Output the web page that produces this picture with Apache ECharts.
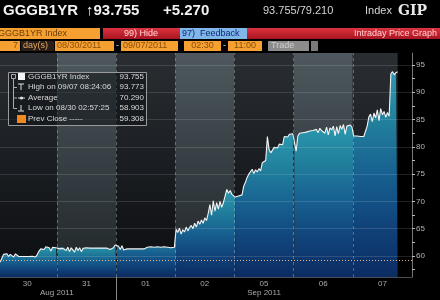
<!DOCTYPE html>
<html><head><meta charset="utf-8">
<script src="https://cdn.jsdelivr.net/npm/echarts@6/dist/echarts.min.js"></script>
<style>html,body{margin:0;padding:0;background:#000;}#c{width:440px;height:300px;}</style>
</head><body><div id="c"></div>
<script>
// ---- data ----
const dayLabels = ['30','31','01','02','05','06','07'];
const monthLabels = ['Aug 2011','Sep 2011'];
const monthStartDay = [0, 2];
const yTicks = [60,65,70,75,80,85,90,95];
const yMinorTicks = [57.5,60,62.5,65,67.5,70,72.5,75,77.5,80,82.5,85,87.5,90,92.5,95];
const slotsPerDay = 35; // 15-minute slots 02:30 - 11:00
const lastPrice = 93.755;
const prevClose = 59.308;
const d30 = [59.4,58.9,59.6,60.3,60.0,60.4,59.9,60.3,60.2,59.8,60.4,60.1,59.9,59.9,59.9,59.95,59.9,59.9,59.9,59.9,59.95,59.9,59.8,60.3,60.9,61.3,61.6,61.2,61.7,61.4,61.5,60.9,61.6,61.4,61.5];
const d31 = [61.5,61.3,61.6,61.4,61.5,61.0,61.6,60.8,61.5,61.2,60.7,61.6,61.0,61.5,60.8,61.4,61.1,61.5,61.3,61.45,61.45,61.45,61.5,61.45,61.45,61.45,61.5,61.45,61.45,61.45,61.1,61.2,61.3,61.5,62.0];
const d01 = [62.1,61.8,61.2,61.9,61.1,61.3,61.3,61.3,61.3,61.25,61.3,61.3,61.3,61.3,61.3,61.3,61.3,61.3,61.6,61.4,61.7,61.5,61.6,61.4,61.7,61.5,61.6,61.4,61.7,61.5,61.6,61.8,61.5,61.7,61.6];
const d02 = [64.9,64.3,65.1,64.0,64.8,64.4,65.3,64.6,65.2,65.6,65.0,66.0,65.3,66.4,65.8,66.6,66.0,67.0,66.5,67.8,69.4,67.5,70.1,68.2,69.8,68.6,70.0,68.9,69.8,71.0,72.2,71.5,72.0,71.3,71.6];
const d05 = [70.8,70.6,71.0,70.7,71.2,72.8,73.5,74.4,75.0,75.3,75.9,75.1,75.8,75.4,76.0,75.6,77.1,76.8,77.5,81.9,79.5,78.9,79.4,79.9,80.2,79.8,80.5,80.8,80.4,81.9,82.1,81.8,82.3,82.0,82.4];
const d06 = [82.3,79.2,82.0,82.5,82.2,82.6,82.3,82.7,82.5,82.9,82.6,83.0,82.8,83.2,82.6,83.4,83.0,83.3,82.5,83.6,82.2,83.5,83.1,83.8,82.0,83.7,82.4,83.9,83.2,84.1,82.3,83.8,83.5,84.0,83.6];
const d07 = [82.0,81.9,82.0,81.9,81.9,82.0,81.9,82.0,83.8,85.5,86.0,84.6,86.2,85.3,86.8,84.8,87.0,85.9,86.5,85.4,86.3,85.6,93.4,93.77,93.2,93.6,93.755];
const dayValues = [d30, d31, d01, d02, d05, d06, d07];

// ---- build ----
const dayData = dayValues.map((vals, d) => vals.map((v, j) => [d + (j + 0.5) / slotsPerDay, v]));
const priceData = [].concat(...dayData);
const lastX = priceData[priceData.length - 1][0];
const X_MIN = 0.04, X_MAX = 7;

const grad = (stops) => ({type:'linear', x:0, y:0, x2:0, y2:1, colorStops: stops.map((c,i)=>({offset:i/(stops.length-1), color:c}))});
const lightBand = grad(['#4a5258','#30363b','#1a1d20']);
const darkBand = grad(['#2a2e33','#1a1d21','#0c0e10']);
const bandData = dayLabels.map((_, d) => [
  {xAxis: d, itemStyle: {color: d % 2 ? lightBand : darkBand}},
  {xAxis: Math.min(d + 1, lastX)}
]);
const overlayData = dayLabels.map((_, d) => d).filter(d => d % 2).map(d => [
  {xAxis: d, itemStyle: {color: 'rgba(150,215,225,0.05)'}},
  {xAxis: Math.min(d + 1, lastX)}
]);

const monthCenters = monthStartDay.map((s, i) => (s + (i + 1 < monthStartDay.length ? monthStartDay[i+1] : dayLabels.length)) / 2);
const dayCenters = dayLabels.map((_, d) => d + 0.5);

const FONT = 'Liberation Sans, Arial, sans-serif';
const txt = (x, y, s, fill, size, extra) => Object.assign({type:'text', x, y, silent:true,
  style:Object.assign({text:s, fill, font:`${size}px ${FONT}`, textVerticalAlign:'middle'}, extra||{})});
const rect = (x, y, w, h, fill) => ({type:'rect', silent:true, shape:{x,y,width:w,height:h}, style:{fill}});
const orange = '#f5a030', oText = '#8a4e0c';

const graphics = [
  // header row 1
  txt(3, 11, 'GGGB1YR', '#f2f2f2', 15, {font:`bold 15px ${FONT}`}),
  txt(86, 11, '\u219193.755', '#f2f2f2', 15, {font:`bold 15px ${FONT}`}),
  txt(163, 11, '+5.270', '#f2f2f2', 15, {font:`bold 15px ${FONT}`}),
  txt(263, 11, '93.755/79.210', '#d4d4d4', 11),
  txt(365, 11, 'Index', '#d4d4d4', 11),
  txt(398, 11, 'GIP', '#e8e8e8', 14, {font:`bold 14px DejaVu Serif, serif`}),
  // row 2
  rect(0, 28, 100, 11, orange),
  txt(-2, 33.5, 'GGGB1YR Index', '#6b3e0a', 9),
  {type:'rect', silent:true, shape:{x:103,y:28,width:337,height:11}, style:{fill:grad(['#dc3340','#a81420'])}},
  txt(141, 33.5, '99) Hide', '#ffd8d8', 9, {textAlign:'center'}),
  rect(180, 28, 67, 11, '#80b6e8'),
  txt(182, 33.5, '97)  Feedback', '#0c2a78', 9),
  txt(437, 33.5, 'Intraday Price Graph', '#ffd0d0', 9, {textAlign:'right'}),
  // row 3
  rect(0, 41, 20, 10, orange), txt(18, 46, '7', oText, 9, {textAlign:'right'}),
  rect(21, 41, 33, 10, '#2a1e16'), txt(23, 46, 'day(s)', '#e0a868', 9),
  rect(55, 41, 59, 10, orange), txt(57, 46, '08/30/2011', oText, 9),
  txt(117.5, 46, '-', '#ddd', 9, {textAlign:'center'}),
  rect(121, 41, 57, 10, orange), txt(123, 46, '09/07/2011', oText, 9),
  rect(184, 41, 37, 10, orange), txt(202.5, 46, '02:30', oText, 9, {textAlign:'center'}),
  txt(224.5, 46, '-', '#ddd', 9, {textAlign:'center'}),
  rect(228, 41, 34, 10, orange), txt(245, 46, '11:00', oText, 9, {textAlign:'center'}),
  rect(268, 41, 41, 10, '#8c8c8c'), txt(271, 46, 'Trade', '#d0d0d0', 9),
  rect(311, 41, 7, 10, '#7a7a7a'),
  // legend box
  {type:'rect', silent:true, z:100, shape:{x:8.5,y:72.5,width:138,height:53}, style:{fill:'rgba(15,18,22,0.55)', stroke:'#9a9a9a', lineWidth:1}},
  {type:'rect', silent:true, z:101, shape:{x:11.5,y:74.5,width:4,height:4}, style:{fill:'none', stroke:'#aaa', lineWidth:1}},
  {type:'rect', silent:true, z:101, shape:{x:18,y:73,width:7,height:7}, style:{fill:'#f4f4f4'}},
  {type:'polyline', silent:true, z:101, shape:{points:[[13.5,79],[13.5,108.5]]}, style:{stroke:'#aaa', lineWidth:1}},
  {type:'polyline', silent:true, z:101, shape:{points:[[13.5,87.5],[17,87.5]]}, style:{stroke:'#aaa', lineWidth:1}},
  {type:'polyline', silent:true, z:101, shape:{points:[[13.5,98],[17,98]]}, style:{stroke:'#aaa', lineWidth:1}},
  {type:'polyline', silent:true, z:101, shape:{points:[[13.5,108.5],[17,108.5]]}, style:{stroke:'#aaa', lineWidth:1}},
  {type:'polyline', silent:true, z:101, shape:{points:[[18,84],[24,84]]}, style:{stroke:'#ddd', lineWidth:1}},
  {type:'polyline', silent:true, z:101, shape:{points:[[21,84],[21,90]]}, style:{stroke:'#ddd', lineWidth:1}},
  {type:'polyline', silent:true, z:101, shape:{points:[[18,98],[25,98]]}, style:{stroke:'#ddd', lineWidth:1}},
  {type:'circle', silent:true, z:101, shape:{cx:21.5,cy:98,r:1.6}, style:{fill:'#ddd'}},
  {type:'polyline', silent:true, z:101, shape:{points:[[21,105],[21,111]]}, style:{stroke:'#ddd', lineWidth:1}},
  {type:'polyline', silent:true, z:101, shape:{points:[[18,111],[24,111]]}, style:{stroke:'#ddd', lineWidth:1}},
  {type:'rect', silent:true, z:101, shape:{x:17,y:115,width:9,height:8}, style:{fill:'#f08a20'}},
];
const legendRows = [
  ['GGGB1YR Index', '93.755', 76.5],
  ['High on 09/07 08:24:06', '93.773', 87],
  ['Average', '70.290', 97.5],
  ['Low on 08/30 02:57:25', '58.903', 108],
  ['Prev Close -----', '59.308', 119]
];
legendRows.forEach(r => {
  graphics.push(Object.assign(txt(28, r[2], r[0], '#d8d8d8', 8), {z:101}));
  graphics.push(Object.assign(txt(144, r[2], r[1], '#d8d8d8', 8, {textAlign:'right'}), {z:101}));
});

// one area per trading day, so the fill shades down from that day's line
const areaSeries = dayData.map((pts, d) => ({
  type:'line', z:3, showSymbol:false, silent:true,
  data: d + 1 < dayData.length ? pts.concat([dayData[d+1][0]]) : pts,
  lineStyle:{opacity:0},
  areaStyle:{origin:'start', opacity:1, color: grad(['#2b98b0','#217f9c','#176090','#10437a','#0b2c62'])}
}));

const hidden = {show:false};
const option = {
  backgroundColor: '#000',
  animation: false,
  grid: {left: 0, right: 28, top: 53, bottom: 23},
  xAxis: [{
    type:'value', min:X_MIN, max:X_MAX,
    splitLine: hidden,
    axisLine: {show:true, lineStyle:{color:'#4a4f55'}},
    axisTick: hidden,
    axisLabel: {customValues: dayCenters, formatter: v => dayLabels[Math.floor(v)], color:'#a8a8a8', fontSize:8, fontFamily:FONT, margin:3}
  }, {
    type:'value', min:X_MIN, max:X_MAX, position:'bottom',
    splitLine: hidden,
    axisLine: hidden,
    axisTick: {show:true, customValues: monthStartDay.slice(1), length:23, lineStyle:{color:'#8a8a8a'}},
    axisLabel: {customValues: monthCenters, formatter: v => monthLabels[monthCenters.indexOf(v)], color:'#a8a8a8', fontSize:8, fontFamily:FONT, margin:12}
  }],
  yAxis: {
    type:'value', position:'right', min:56.15, max:97.2,
    splitLine: hidden,
    axisLine: {show:true, lineStyle:{color:'#777'}},
    axisTick: {show:true, customValues: yMinorTicks, length:3, lineStyle:{color:'#bbb'}},
    axisLabel: {customValues: yTicks, color:'#b4b4b4', fontSize:8, fontFamily:FONT, margin:4}
  },
  series: [
    { // background day bands
      type:'line', data: priceData, z:1, showSymbol:false, silent:true,
      lineStyle:{opacity:0},
      markArea: {silent:true, data: bandData}
    },
    ...areaSeries,
    { // price line + light-band overlay
      type:'line', data: priceData, z:4, showSymbol:false, silent:true,
      lineStyle:{color:'#f4f4f4', width:1.1},
      markArea: {silent:true, data: overlayData}
    },
    { // grid lines, day separators, prev close, last price tag
      type:'line', data: priceData, z:5, showSymbol:false, silent:true,
      lineStyle:{opacity:0},
      markLine: {
        silent:true, symbol:'none',
        data: [
          ...yTicks.map(t => ({yAxis:t, lineStyle:{color:'rgba(255,255,255,0.13)', width:1, type:'solid'}, label:{show:false}})),
          ...dayLabels.slice(1).map((_, i) => ({xAxis:i+1, lineStyle:{color:'rgba(200,200,200,0.4)', width:1, type:[3,3]}, label:{show:false}})),
          {yAxis: prevClose, lineStyle:{color:'#e6b48c', width:1, type:[1,2]}, label:{show:false}},
          {yAxis: lastPrice, lineStyle:{opacity:0}, label:{show:true, position:'end', distance:1, formatter: () => lastPrice.toFixed(3), color:'#111', backgroundColor:'#e6e6e6', fontSize:7, fontFamily:FONT, padding:[1,2]}}
        ]
      }
    }
  ],
  graphic: graphics
};
echarts.init(document.getElementById('c')).setOption(option);
</script></body></html>
